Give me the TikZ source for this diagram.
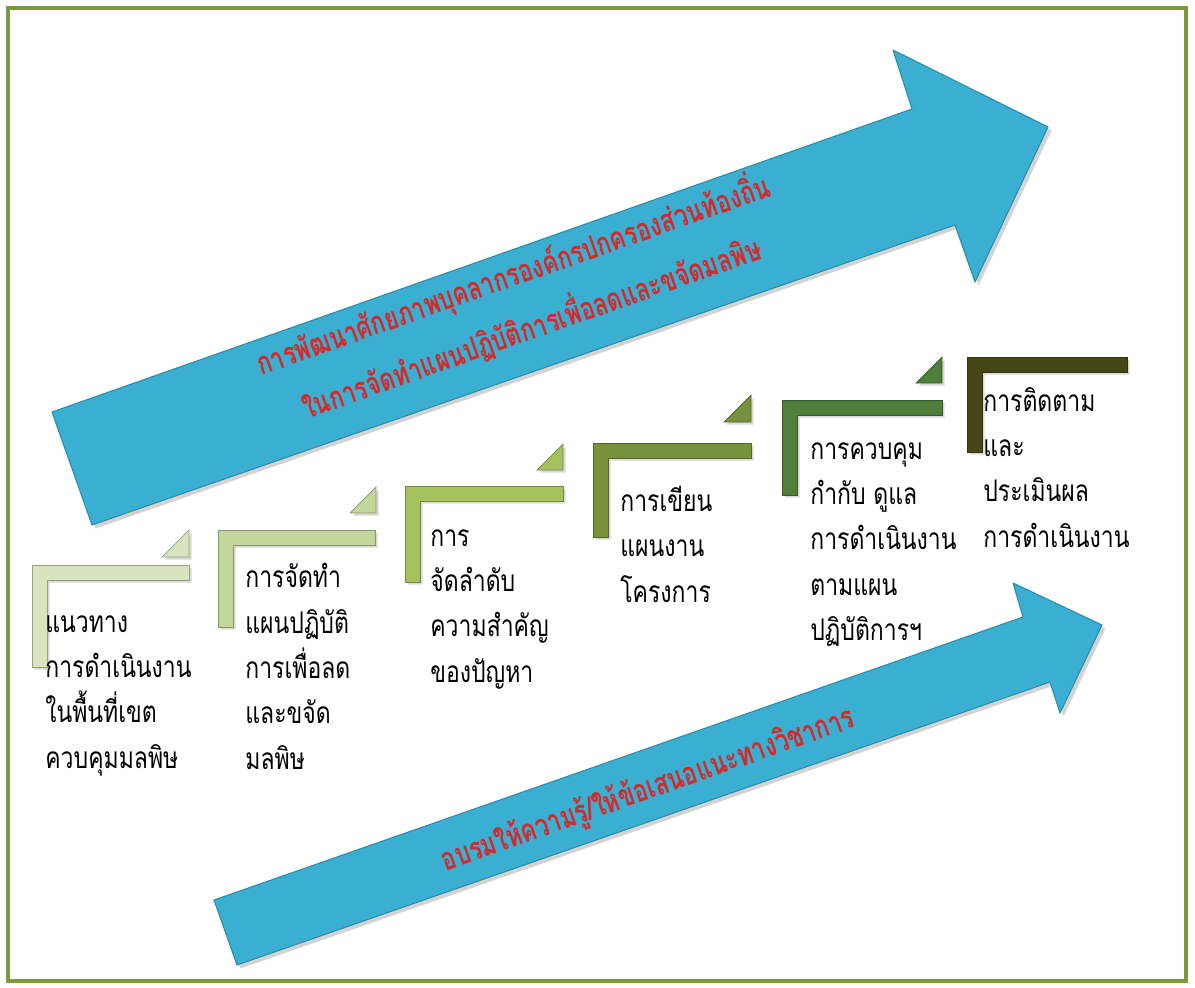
\documentclass[tikz,border=0pt]{standalone}
\usepackage{fontspec}
\newfontfamily\thaifont[Script=Thai,FakeStretch=0.77]{Loma}
\newfontfamily\thaititle[Script=Thai,FakeStretch=0.74]{Loma}
\usetikzlibrary{shadows}
\definecolor{framegreen}{HTML}{7A9A3C}
\definecolor{arrowblue}{HTML}{3AAFD2}
\definecolor{arrowedge}{HTML}{2A8CAD}
\definecolor{titlered}{HTML}{D62A2A}
\definecolor{stepa}{HTML}{D7E4BD}
\definecolor{stepb}{HTML}{C3D69B}
\definecolor{stepc}{HTML}{A5C25F}
\definecolor{stepd}{HTML}{76923C}
\definecolor{stepe}{HTML}{507F3B}
\definecolor{stepf}{HTML}{474716}
\begin{document}
\begin{tikzpicture}[x=0.02cm,y=-0.02cm,
    bigarrow/.style={fill=arrowblue,draw=arrowedge,line width=0.6pt,line join=round,
      drop shadow={opacity=0.35,shadow xshift=2pt,shadow yshift=-2pt}},
    arrowtext/.style={text=titlered,align=center,rotate=19.4,inner sep=1pt,
      font=\thaititle\bfseries\fontsize{18}{27}\selectfont},
    bracket/.style={draw=#1!70!black,line width=0.4pt,fill=#1,
      drop shadow={opacity=0.3,shadow xshift=1.5pt,shadow yshift=-1.5pt}},
    steptext/.style={anchor=north west,inner sep=0pt,align=left,
      font=\thaifont\fontsize{17}{25.8}\selectfont}]
  \useasboundingbox (0,0) rectangle (1195,987);
  \draw[framegreen,line width=2.6pt] (8,8) rectangle (1186,981);

  % big arrows
  \draw[bigarrow] (52,412) -- (912,109) -- (893,50) -- (1048,127)
    -- (975,282) -- (955,225) -- (92,525) -- cycle;
  \node[arrowtext] (upper) at (522,300)
    {การพัฒนาศักยภาพบุคลากรองค์กรปกครองส่วนท้องถิ่น\\[5pt]ในการจัดทำแผนปฏิบัติการเพื่อลดและขจัดมลพิษ};
  \draw[bigarrow] (214,900) -- (1023,617) -- (1013,583) -- (1102,625)
    -- (1060,713) -- (1050,682) -- (237,965) -- cycle;
  \node[arrowtext] (lower) at (648,790) {อบรมให้ความรู้/ให้ข้อเสนอแนะทางวิชาการ};

  % steps
  \draw[bracket=stepa] (32,565) -- ++(157,0) -- ++(0,15) -- ++(-142,0)
    -- ++(0,87) -- ++(-15,0) -- cycle;
  \draw[bracket=stepa] (189,557) -- ++(0,-27) -- ++(-27,27) -- cycle;
  \node[steptext] (s1) at (45,615) {แนวทาง\\การดำเนินงาน\\ในพื้นที่เขต\\ควบคุมมลพิษ};

  \draw[bracket=stepb] (218,530) -- ++(157,0) -- ++(0,15) -- ++(-142,0)
    -- ++(0,82) -- ++(-15,0) -- cycle;
  \draw[bracket=stepb] (376,513) -- ++(0,-26) -- ++(-26,26) -- cycle;
  \node[steptext] (s2) at (245,563) {การจัดทำ\\แผนปฏิบัติ\\การเพื่อลด\\และขจัด\\มลพิษ};

  \draw[bracket=stepc] (405,486) -- ++(158,0) -- ++(0,15) -- ++(-143,0)
    -- ++(0,81) -- ++(-15,0) -- cycle;
  \draw[bracket=stepc] (563,470) -- ++(0,-26) -- ++(-26,26) -- cycle;
  \node[steptext] (s3) at (430,529) {การ\\จัดลำดับ\\ความสำคัญ\\ของปัญหา};

  \draw[bracket=stepd] (593,443) -- ++(158,0) -- ++(0,15) -- ++(-143,0)
    -- ++(0,79) -- ++(-15,0) -- cycle;
  \draw[bracket=stepd] (751,422) -- ++(0,-27) -- ++(-27,27) -- cycle;
  \node[steptext] (s4) at (620,486) {การเขียน\\แผนงาน\\โครงการ};

  \draw[bracket=stepe] (782,400) -- ++(160,0) -- ++(0,15) -- ++(-145,0)
    -- ++(0,80) -- ++(-15,0) -- cycle;
  \draw[bracket=stepe] (942,383) -- ++(0,-26) -- ++(-26,26) -- cycle;
  \node[steptext] (s5) at (810,442) {การควบคุม\\กำกับ ดูแล\\การดำเนินงาน\\ตามแผน\\ปฏิบัติการฯ};

  \draw[bracket=stepf] (967,357) -- ++(160,0) -- ++(0,15) -- ++(-145,0)
    -- ++(0,80) -- ++(-15,0) -- cycle;
  \node[steptext] (s6) at (983,387) {การติดตาม\\และ\\ประเมินผล\\การดำเนินงาน};
\end{tikzpicture}
\end{document}
